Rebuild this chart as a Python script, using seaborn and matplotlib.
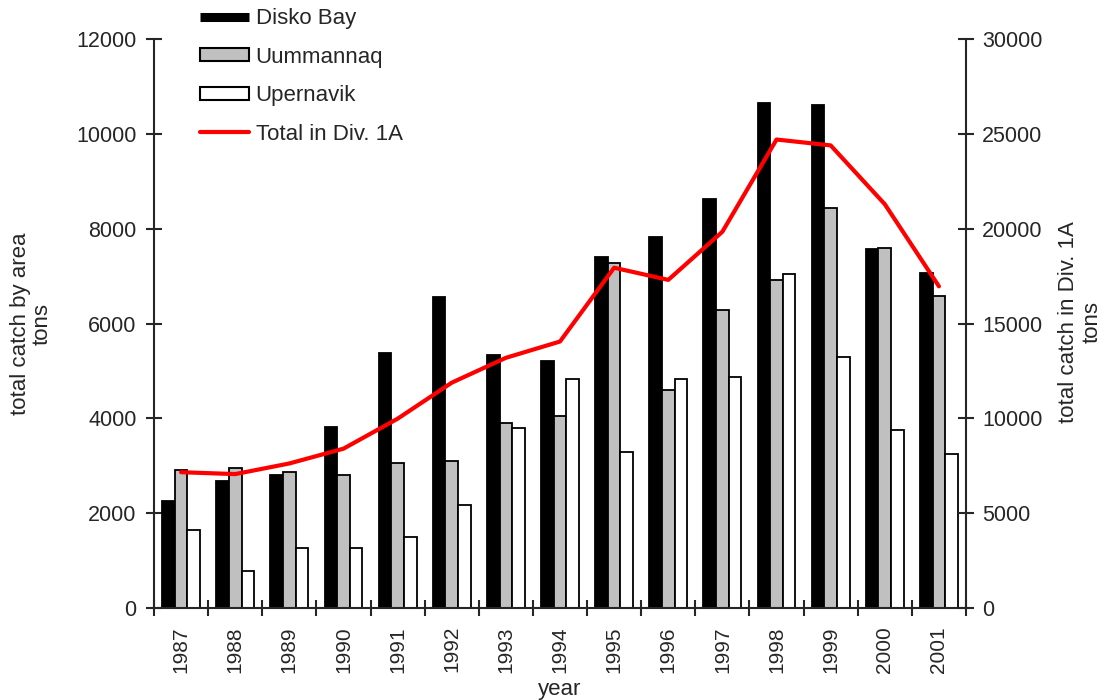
import numpy as np
import pandas as pd
import matplotlib
matplotlib.use("Agg")
import matplotlib.pyplot as plt
from matplotlib.patches import Patch
from matplotlib.lines import Line2D
import seaborn as sns

# Catch by area (tons) and total catch in Div. 1A (tons)
years = ["1987", "1988", "1989", "1990", "1991", "1992", "1993", "1994",
         "1995", "1996", "1997", "1998", "1999", "2000", "2001"]
areas = ["Disko Bay", "Uummannaq", "Upernavik"]
disko = [2250, 2670, 2800, 3810, 5370, 6560, 5330, 5200,
         7400, 7820, 8630, 10650, 10610, 7570, 7060]
uummannaq = [2910, 2950, 2870, 2810, 3060, 3110, 3910, 4040,
             7280, 4590, 6290, 6920, 8440, 7600, 6590]
upernavik = [1640, 780, 1260, 1260, 1500, 2180, 3800, 4840,
             3280, 4840, 4880, 7040, 5300, 3750, 3250]
total_div1a = [7160, 7060, 7620, 8400, 9980, 11880, 13190, 14050,
               17940, 17300, 19840, 24700, 24390, 21290, 16960]
total_label = "Total in Div. 1A"

left_ticks = [0, 2000, 4000, 6000, 8000, 10000, 12000]
right_ticks = [0, 5000, 10000, 15000, 20000, 25000, 30000]

sns.set_style("ticks")
plt.rcParams["font.family"] = ["Liberation Sans", "DejaVu Sans"]

df = pd.DataFrame({
    "year": np.repeat(years, len(areas)),
    "area": areas * len(years),
    "catch": np.column_stack([disko, uummannaq, upernavik]).ravel(),
})

palette = {"Disko Bay": "#000000", "Uummannaq": "#C0C0C0", "Upernavik": "#FFFFFF"}

W, H = 1106, 700
fig = plt.figure(figsize=(W / 100, H / 100), dpi=100)
ax = fig.add_axes([154 / W, 1 - 608 / H, (966 - 154) / W, (608 - 39) / H])

sns.barplot(data=df, x="year", y="catch", hue="area", order=years,
            hue_order=areas, palette=palette, width=0.7,
            edgecolor="black", linewidth=1.3, ax=ax, legend=False)

ax.set_xlim(-0.5, len(years) - 0.5)
ax.set_ylim(0, 12000)
ax.set_yticks(left_ticks)
ax.set_yticklabels([str(v) for v in left_ticks])
ax.set_xlabel("")
ax.set_ylabel("")

# category boundaries carry the tick marks, year labels sit between them
ax.set_xticks(np.arange(-0.5, len(years), 1.0))
ax.set_xticklabels([])
ax.set_xticks(np.arange(len(years)), minor=True)
ax.set_xticklabels(years, minor=True, rotation=90, fontsize=15)
ax.tick_params(axis="x", which="major", direction="inout", length=11, width=1.5)
ax.tick_params(axis="x", which="minor", length=0, pad=13)
ax.tick_params(axis="y", direction="inout", length=11, width=1.5,
               labelsize=15.5, pad=7)

for side in ["top", "right"]:
    ax.spines[side].set_visible(False)
for side in ["left", "bottom"]:
    ax.spines[side].set_linewidth(1.5)

ax2 = ax.twinx()
sns.lineplot(x=np.arange(len(years)), y=total_div1a, ax=ax2,
             color="#FF0000", linewidth=3)
ax2.set_ylim(0, 30000)
ax2.set_yticks(right_ticks)
ax2.set_yticklabels([str(v) for v in right_ticks])
ax2.set_xlim(-0.5, len(years) - 0.5)
ax2.set_ylabel("")
ax2.tick_params(axis="y", direction="inout", length=11, width=1.5,
                labelsize=15.5, pad=6)
for side in ["top", "left", "bottom"]:
    ax2.spines[side].set_visible(False)
ax2.spines["right"].set_linewidth(1.5)

fig.text(31.5 / W, 1 - 324 / H, "total catch by area\ntons", rotation=90,
         ha="center", va="center", multialignment="center", fontsize=16,
         linespacing=1.05)
fig.text(1080 / W, 1 - 322 / H, "total catch in Div. 1A\ntons", rotation=90,
         ha="center", va="center", multialignment="center", fontsize=16,
         linespacing=1.15)
fig.text(560 / W, 1 - 694.5 / H, "year", ha="center", va="baseline",
         fontsize=16)

handles = [
    Line2D([], [], color="black", linewidth=6.5, solid_capstyle="butt"),
    Patch(facecolor="#C0C0C0", edgecolor="black", linewidth=1.5),
    Patch(facecolor="white", edgecolor="black", linewidth=1.5),
    Line2D([], [], color="#FF0000", linewidth=3),
]
fig.legend(handles, areas + [total_label], loc="upper left",
           bbox_to_anchor=(200 / W, 1 - 8 / H), frameon=False, fontsize=16,
           handlelength=2.2, handleheight=0.55, handletextpad=0.3,
           labelspacing=0.79, borderpad=0, borderaxespad=0)

fig.savefig("out.png", dpi=100)
